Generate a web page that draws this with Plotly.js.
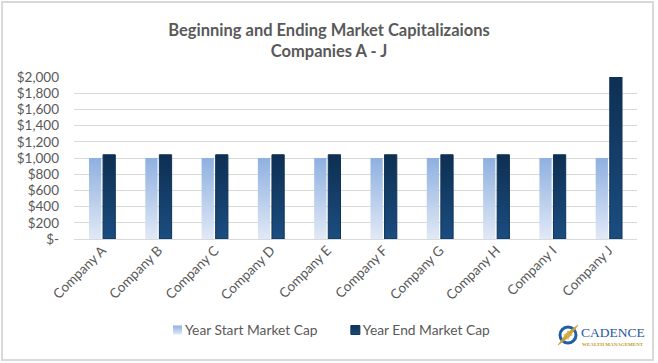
<!DOCTYPE html>
<html>
<head>
<meta charset="utf-8">
<script src="https://cdn.plot.ly/plotly-3.0.1.min.js"></script>
<style>
  html, body { margin: 0; padding: 0; background: #fff; }
  #wrap { position: relative; width: 658px; height: 363px; }
  #chart { width: 658px; height: 363px; }
  #frame { position: absolute; left: 1px; top: 1px; width: 649px; height: 356px;
           border: 2px solid #d9d9d9; pointer-events: none; }
</style>
</head>
<body>
<div id="wrap">
  <div id="chart"></div>
  <div id="frame"></div>
</div>
<script>
const categories = ['Company A','Company B','Company C','Company D','Company E',
                    'Company F','Company G','Company H','Company I','Company J'];
const yearStart = [1000,1000,1000,1000,1000,1000,1000,1000,1000,1000];
const yearEnd   = [1040,1040,1040,1040,1040,1040,1040,1040,1040,2000];
const seriesNames = ['Year Start Market Cap','Year End Market Cap'];
const yTickVals = [0,200,400,600,800,1000,1200,1400,1600,1800,2000];
const yTickText = ['$-','$200','$400','$600','$800','$1,000','$1,200','$1,400','$1,600','$1,800','$2,000'];

const FONT = 'Lato, "Open Sans", sans-serif';
const GREY = '#595959';

const traces = [
  { type: 'bar', name: seriesNames[0], x: categories, y: yearStart,
    marker: { color: '#b4c8ea', line: { width: 0 } }, hoverinfo: 'skip' },
  { type: 'bar', name: seriesNames[1], x: categories, y: yearEnd,
    marker: { color: '#163f6b', line: { color: '#0f3459', width: 1 } }, hoverinfo: 'skip' }
];

// paper-coordinate helpers for the logo (plot area 74..637 x, 77..239 y)
const px = v => (v - 74) / 563;
const py = v => (239 - v) / 162;

const layout = {
  width: 658, height: 363,
  margin: { l: 74, r: 21, t: 77, b: 124 },
  paper_bgcolor: '#ffffff', plot_bgcolor: '#ffffff',
  font: { family: FONT, color: GREY, size: 13 },
  title: {
    text: 'Beginning and Ending Market Capitalizaions<br>Companies A - J',
    font: { family: FONT, size: 16.5, color: GREY, weight: 'bold' },
    x: 0.5, xref: 'container', xanchor: 'center',
    y: 1 - 36 / 363, yref: 'container', yanchor: 'middle'
  },
  barmode: 'group', bargap: 0.5, bargroupgap: 0.13,
  showlegend: true,
  legend: {
    orientation: 'h', xref: 'container', yref: 'container',
    x: 0.5 - 9 / 658, xanchor: 'center', y: (363 - 330) / 363, yanchor: 'middle',
    font: { family: FONT, size: 13.8, color: GREY }, itemwidth: 30,
    traceorder: 'normal'
  },
  xaxis: {
    type: 'category', tickangle: -45, showgrid: false, zeroline: false,
    showline: false, ticks: '', tickfont: { family: FONT, size: 13.5, color: GREY },
    fixedrange: true
  },
  yaxis: {
    range: [0, 2000], tickvals: yTickVals, ticktext: yTickText,
    showgrid: true, gridcolor: '#d9d9d9', gridwidth: 1,
    zeroline: true, zerolinecolor: '#d9d9d9', zerolinewidth: 1,
    showline: false, ticks: '', ticklabelstandoff: 14,
    tickfont: { family: FONT, size: 13.5, color: GREY }, fixedrange: true
  },
  shapes: [
    { type: 'circle', xref: 'paper', yref: 'paper', xsizemode: 'pixel', ysizemode: 'pixel',
      xanchor: px(568), yanchor: py(335), x0: -8, x1: 8, y0: -8, y1: 8,
      line: { color: '#1f5fa3', width: 3 }, fillcolor: '#ffffff' },
    { type: 'path', xref: 'paper', yref: 'paper', xsizemode: 'pixel', ysizemode: 'pixel',
      xanchor: px(568), yanchor: py(335),
      path: 'M -10 -10 L 1.5 -1.5 L 10 10 L -1.5 1.5 Z',
      line: { color: '#c9a23c', width: 0.8 }, fillcolor: '#c9a23c' },
    { type: 'path', xref: 'paper', yref: 'paper', xsizemode: 'pixel', ysizemode: 'pixel',
      xanchor: px(568), yanchor: py(335),
      path: 'M 0 -5 L 1.5 -1.5 L 5 0 L 1.5 1.5 L 0 5 L -1.5 1.5 L -5 0 L -1.5 -1.5 Z',
      line: { width: 0 }, fillcolor: '#d4ad48' }
  ],
  annotations: [
    { xref: 'paper', yref: 'paper', x: px(613), y: py(332), showarrow: false,
      text: 'CADENCE', xanchor: 'center', yanchor: 'middle',
      font: { family: '"Liberation Serif", "DejaVu Serif", serif', size: 13.5, color: '#1f5a9a' } },
    { xref: 'paper', yref: 'paper', x: px(613), y: py(344.5), showarrow: false,
      text: 'WEALTH MANAGEMENT', xanchor: 'center', yanchor: 'middle',
      font: { family: '"Liberation Serif", "DejaVu Serif", serif', size: 5, color: '#c49a2c', weight: 'bold' } }
  ]
};

Plotly.newPlot('chart', traces, layout, { staticPlot: true, displayModeBar: false }).then(gd => {
  const svg = gd.querySelector('svg.main-svg');
  const ns = 'http://www.w3.org/2000/svg';
  let defs = svg.querySelector('defs');
  if (!defs) { defs = document.createElementNS(ns, 'defs'); svg.insertBefore(defs, svg.firstChild); }
  function grad(id, stops, x2, y2) {
    const g = document.createElementNS(ns, 'linearGradient');
    g.setAttribute('id', id);
    g.setAttribute('x1', '0'); g.setAttribute('y1', '0');
    g.setAttribute('x2', x2); g.setAttribute('y2', y2);
    stops.forEach(([o, c]) => {
      const s = document.createElementNS(ns, 'stop');
      s.setAttribute('offset', o); s.setAttribute('stop-color', c);
      g.appendChild(s);
    });
    defs.appendChild(g);
  }
  grad('gLight', [['0', '#8eb0e0'], ['1', '#e1e9f6']], '0', '1');
  grad('gDark', [['0', '#0e2f52'], ['1', '#1b4d80']], '0', '1');
  const barTraces = gd.querySelectorAll('.barlayer .trace.bars');
  barTraces.forEach((t, i) => {
    t.querySelectorAll('path').forEach(p => {
      p.style.fill = i === 0 ? 'url(#gLight)' : 'url(#gDark)';
    });
  });
  const leg = gd.querySelectorAll('.legend .traces');
  leg.forEach((t, i) => {
    t.querySelectorAll('.legendpoints path').forEach(p => {
      p.setAttribute('d', 'M4.5,4.5H-4.5V-4.5H4.5Z');
      p.setAttribute('transform', 'translate(32.5,0)');
      p.style.fill = i === 0 ? 'url(#gLight)' : 'url(#gDark)';
    });
  });
});
</script>
</body>
</html>
